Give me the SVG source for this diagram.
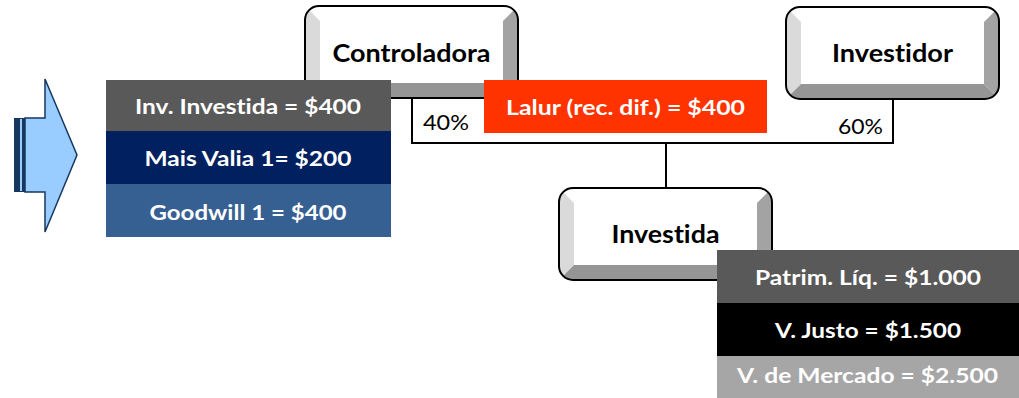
<svg xmlns="http://www.w3.org/2000/svg" width="1019" height="398" viewBox="0 0 1019 398">
<style>
text{font-variant-ligatures:none;font-feature-settings:"liga" 0,"clig" 0}
.nl{font-family:Lato,"Open Sans",sans-serif;font-weight:bold;font-size:25px;fill:#000;text-anchor:middle}
.st{font-family:Lato,"Open Sans",sans-serif;font-weight:bold;font-size:21.5px;fill:#fff;text-anchor:middle}
.pc{font-family:Lato,"Open Sans",sans-serif;font-size:22px;fill:#000}
.ln{fill:none;stroke:#000;stroke-width:2}
</style>
<defs>
<clipPath id="bc"><rect width="213" height="92" rx="14"/></clipPath>
<g id="bevel">
<g clip-path="url(#bc)">
<rect width="213" height="92" fill="#fff"/>
<polygon points="0,0 15,15 15,77 0,92" fill="#dadada"/>
<polygon points="213,0 198,15 198,77 213,92" fill="#a3a3a3"/>
<polygon points="0,92 15,77 198,77 213,92" fill="#959595"/>
</g>
<rect width="213" height="92" rx="14" fill="none" stroke="#000" stroke-width="2"/>
</g>
</defs>
<rect width="1019" height="398" fill="#fff"/>

<g id="connectors">
<path class="ln" d="M412,98 V143 H893 V99"/>
<path class="ln" d="M666,143 V188"/>
</g>
<g id="pct40"><text class="pc" x="423" y="130" textLength="46" lengthAdjust="spacingAndGlyphs">40%</text></g>
<g id="pct60"><text class="pc" x="838" y="134" textLength="45" lengthAdjust="spacingAndGlyphs">60%</text></g>

<g id="controladora">
<use href="#bevel" transform="translate(305,6)"/>
<text class="nl" x="411.5" y="62" textLength="158" lengthAdjust="spacingAndGlyphs">Controladora</text>
</g>
<g id="investidor">
<use href="#bevel" transform="translate(786,7)"/>
<text class="nl" x="892.5" y="62" textLength="121" lengthAdjust="spacingAndGlyphs">Investidor</text>
</g>
<g id="investida">
<use href="#bevel" transform="translate(559,188)"/>
<text class="nl" x="665.5" y="243" textLength="108" lengthAdjust="spacingAndGlyphs">Investida</text>
</g>

<g id="arrow">
<rect x="14" y="118" width="11" height="74" fill="#17375e"/>
<rect x="20" y="119" width="2" height="72" fill="#99ccff"/>
<polygon points="25,118 45,118 45,79 77,155 45,232 45,192 25,192" fill="#99ccff" stroke="#17375e" stroke-width="1.5" stroke-linejoin="miter"/>
</g>

<g id="lalur">
<rect x="484" y="80" width="283" height="53" fill="#ff3300"/>
<text class="st" x="625.5" y="115" textLength="239" lengthAdjust="spacingAndGlyphs">Lalur (rec. dif.) = $400</text>
</g>

<g id="left-stack">
<rect x="106" y="80" width="285" height="51" fill="#595959"/>
<rect x="106" y="131" width="285" height="53" fill="#002060"/>
<rect x="106" y="184" width="285" height="53" fill="#376092"/>
<text class="st" x="248" y="114" textLength="226" lengthAdjust="spacingAndGlyphs">Inv. Investida = $400</text>
<text class="st" x="248" y="166" textLength="207" lengthAdjust="spacingAndGlyphs">Mais Valia 1= $200</text>
<text class="st" x="248" y="220" textLength="197" lengthAdjust="spacingAndGlyphs">Goodwill 1 = $400</text>
</g>

<g id="right-stack">
<rect x="717" y="250" width="302" height="53" fill="#595959"/>
<rect x="717" y="303" width="302" height="53" fill="#000"/>
<rect x="717" y="356" width="302" height="42" fill="#a6a6a6"/>
<text class="st" x="868" y="285" textLength="226" lengthAdjust="spacingAndGlyphs">Patrim. Líq. = $1.000</text>
<text class="st" x="868" y="338" textLength="186" lengthAdjust="spacingAndGlyphs">V. Justo = $1.500</text>
<text class="st" x="867.5" y="383" textLength="261" lengthAdjust="spacingAndGlyphs" fill="#f2f2f2">V. de Mercado = $2.500</text>
</g>
</svg>
